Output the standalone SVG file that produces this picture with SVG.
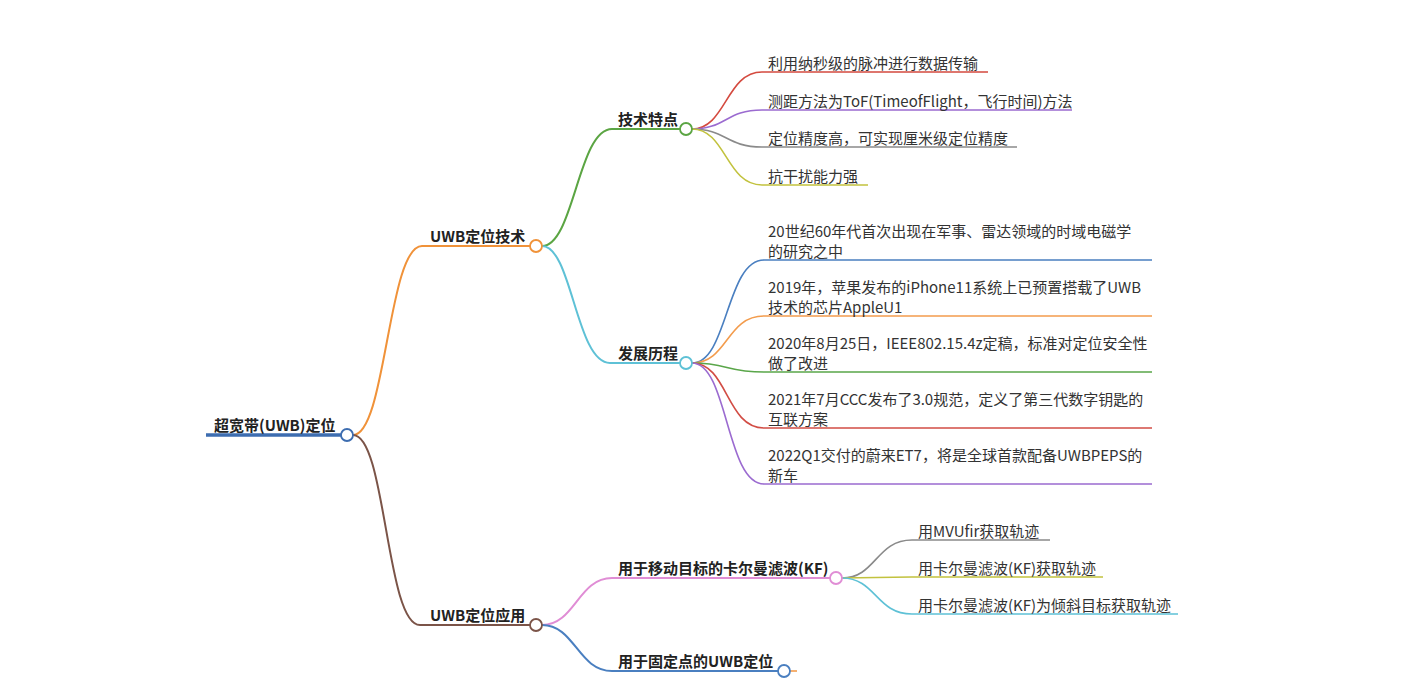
<svg xmlns="http://www.w3.org/2000/svg" width="1404" height="682" viewBox="0 0 1404 682">
<style>
text{font-family:"Noto Sans CJK SC","Noto Sans",sans-serif;font-size:15px;fill:#333}
.b{font-weight:bold;fill:#222}
.c{fill:none;stroke-width:1.6}
.br{fill:none;stroke-width:2}
.n{fill:#fff;stroke-width:1.8}
</style>
<rect width="1404" height="682" fill="#fff"/>
<g id="connectors">
<path d="M206,435 H341" stroke="#3d6db0" stroke-width="3.5" fill="none"/>
<path class="br" d="M353,435 C386,435 388,246 422,246 H530" stroke="#f09239"/>
<path class="br" d="M353,435 C386,435 386,625 420,625 H530" stroke="#7b5448"/>
<path class="br" d="M542,246 C574,246 578,129 612,129 H680" stroke="#5ba543"/>
<path class="br" d="M542,246 C572,246 576,363 610,363 H680" stroke="#5ec1d6"/>
<path class="c" d="M692,129 C726,129 726,72 762,72 H988" stroke="#d44a3f"/>
<path class="c" d="M692,129 C726,129 726,110 762,110 H1072" stroke="#9b6bd0"/>
<path class="c" d="M692,129 C726,129 726,147 762,147 H1017" stroke="#8a8a8a"/>
<path class="c" d="M692,129 C726,129 726,185 762,185 H868" stroke="#c2c23e"/>
<path class="c" d="M692,363 C728,363 726,260 764,260 H1152" stroke="#4a7fc0"/>
<path class="c" d="M692,363 C728,363 726,316 764,316 H1152" stroke="#f39c4d"/>
<path class="c" d="M692,363 C728,363 726,372 764,372 H1152" stroke="#5aa64a"/>
<path class="c" d="M692,363 C728,363 726,428 764,428 H1152" stroke="#d24d45"/>
<path class="c" d="M692,363 C728,363 726,484 764,484 H1152" stroke="#9b6bd0"/>
<path class="br" d="M542,625 C575,625 578,578 612,578 H830" stroke="#e08dd5"/>
<path class="br" d="M542,625 C575,625 578,671 612,671 H778" stroke="#4a7fc0"/>
<path d="M790,671 H797" stroke="#f39c4d" stroke-width="1.6" fill="none"/>
<path class="c" d="M842,578 C876,578 876,540 912,540 H1050" stroke="#8a8a8a"/>
<path class="c" d="M842,578 C876,578 876,577 912,577 H1103" stroke="#c2c23e"/>
<path class="c" d="M842,578 C876,578 876,614 912,614 H1178" stroke="#5ec1d6"/>
</g>
<g id="root"><text class="b" x="214" y="431">超宽带(UWB)定位</text><circle class="n" cx="347" cy="435" r="6" stroke="#3d6db0"/></g>
<g id="tech"><text class="b" x="430" y="242">UWB定位技术</text><circle class="n" cx="536" cy="246" r="6" stroke="#f09239"/></g>
<g id="features"><text class="b" x="618" y="125">技术特点</text><circle class="n" cx="686" cy="129" r="6" stroke="#5ba543"/></g>
<g id="f1"><text x="768" y="69">利用纳秒级的脉冲进行数据传输</text></g>
<g id="f2"><text x="768" y="107">测距方法为ToF(TimeofFlight，飞行时间)方法</text></g>
<g id="f3"><text x="768" y="144">定位精度高，可实现厘米级定位精度</text></g>
<g id="f4"><text x="768" y="182">抗干扰能力强</text></g>
<g id="history"><text class="b" x="618" y="359">发展历程</text><circle class="n" cx="686" cy="363" r="6" stroke="#5ec1d6"/></g>
<g id="h1"><text x="768" y="237">20世纪60年代首次出现在军事、雷达领域的时域电磁学</text><text x="768" y="257">的研究之中</text></g>
<g id="h2"><text x="768" y="293">2019年，苹果发布的iPhone11系统上已预置搭载了UWB</text><text x="768" y="313">技术的芯片AppleU1</text></g>
<g id="h3"><text x="768" y="349">2020年8月25日，IEEE802.15.4z定稿，标准对定位安全性</text><text x="768" y="369">做了改进</text></g>
<g id="h4"><text x="768" y="405">2021年7月CCC发布了3.0规范，定义了第三代数字钥匙的</text><text x="768" y="425">互联方案</text></g>
<g id="h5"><text x="768" y="461">2022Q1交付的蔚来ET7，将是全球首款配备UWBPEPS的</text><text x="768" y="481">新车</text></g>
<g id="app"><text class="b" x="430" y="621">UWB定位应用</text><circle class="n" cx="536" cy="625" r="6" stroke="#7b5448"/></g>
<g id="kf"><text class="b" x="618" y="574">用于移动目标的卡尔曼滤波(KF)</text><circle class="n" cx="836" cy="578" r="6" stroke="#e08dd5"/></g>
<g id="k1"><text x="918" y="537">用MVUfir获取轨迹</text></g>
<g id="k2"><text x="918" y="574">用卡尔曼滤波(KF)获取轨迹</text></g>
<g id="k3"><text x="918" y="611">用卡尔曼滤波(KF)为倾斜目标获取轨迹</text></g>
<g id="fixed"><text class="b" x="618" y="667">用于固定点的UWB定位</text><circle class="n" cx="784" cy="671" r="6" stroke="#4a7fc0"/></g>
</svg>
